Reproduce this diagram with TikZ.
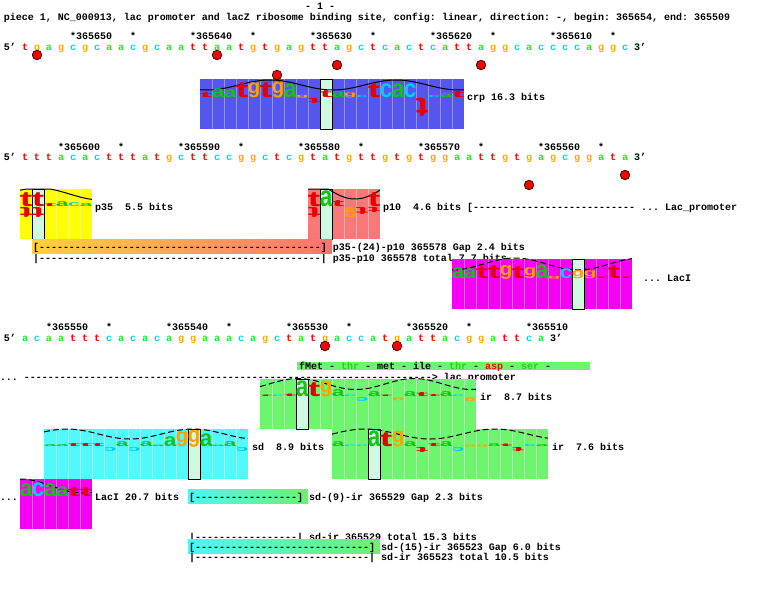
\documentclass[tikz,border=0pt]{standalone}
\usepackage{fontspec}
\usepackage{graphicx}
\setmonofont{Liberation Mono}
\newfontfamily\logof{Liberation Sans}
\definecolor{sa}{RGB}{40,230,40}
\definecolor{sc}{RGB}{0,215,240}
\definecolor{sg}{RGB}{255,170,0}
\definecolor{st}{RGB}{255,0,0}
\definecolor{La}{RGB}{20,195,20}
\definecolor{Lc}{RGB}{0,205,250}
\definecolor{Lg}{RGB}{255,160,0}
\definecolor{Lt}{RGB}{230,0,0}
\definecolor{crpblue}{RGB}{85,85,240}
\definecolor{pyellow}{RGB}{255,255,0}
\definecolor{pred}{RGB}{250,120,120}
\definecolor{laci}{RGB}{245,0,245}
\definecolor{sdcyan}{RGB}{80,250,250}
\definecolor{irgreen}{RGB}{110,245,110}
\definecolor{mint}{RGB}{205,250,225}
\definecolor{barAl}{RGB}{255,210,60}
\definecolor{barAr}{RGB}{250,115,115}
\definecolor{barBl}{RGB}{80,245,245}
\definecolor{barBr}{RGB}{110,240,110}
\definecolor{aag}{RGB}{40,205,40}
\newcount\myrc
\newcommand\Rep[2]{\myrc=#1\relax\loop\ifnum\myrc>0 #2\advance\myrc by -1\repeat}
\tikzset{
 mono/.style={inner sep=0pt, outer sep=0pt, anchor=base west, font=\ttfamily\bfseries\fontsize{10}{12}\selectfont},
 colsep/.style={draw=white, draw opacity=0.35, line width=0.6pt},
 hlcol/.style={fill=mint, draw=black, line width=0.8pt},
 wave/.style={black, line width=1pt},
 dwave/.style={black, line width=1pt, dash pattern=on 6pt off 3pt},
 reddot/.style={fill=red, draw=black, line width=0.6pt},
}
\newcommand\LG[4]{\node[inner sep=0pt,outer sep=0pt,anchor=south] at (#1,#2) {\resizebox*{12.5pt}{#4pt}{\logof\bfseries\textcolor{L#3}{#3}}};}
\newcommand\LD[4]{\node[inner sep=0pt,outer sep=0pt,anchor=north] at (#1,{#2+0.6}) {\rotatebox{180}{\resizebox*{12.5pt}{#4pt}{\logof\bfseries\textcolor{L#3}{#3}}}};}
\newcommand\logobox[5]{%
  \fill[#4] (#1,#2) rectangle ({#1+12*#3},{#2+50});
  \pgfmathtruncatemacro\nn{#3-1}
  \foreach \j in {1,...,\nn} {\draw[colsep] ({#1+12*\j},#2) -- ({#1+12*\j},{#2+50});}
  \ifnum#5>-1 \draw[hlcol] ({#1+12*#5},#2) rectangle ({#1+12*#5+12},{#2+50}); \fi
}
\newcommand\seqrow[2]{\foreach \ch [count=\i from 0] in {#2} {\node[mono,anchor=base] at ({25+12*\i},#1) {\textcolor{s\ch}{\ch}};}}
\newcommand\labrow[2]{\foreach \k/\lab in {#2} {\node[mono] at ({4+6*\k},#1) {\lab};}}
\begin{document}
\begin{tikzpicture}[x=1pt,y=-1pt]
\fill[white] (0,0) rectangle (774,603);
\useasboundingbox (0,0) rectangle (774,603);

% texts partly covered later
\node[mono] (tot1) at (33,261) {|\Rep{47}{-}| p35-p10 365578 total 7.7 bits};
\node[mono] (lacprom) at (0,380) {... \Rep{68}{-}> lac promoter};
\node[mono] (totB) at (189,540) {|\Rep{17}{-}| sd-ir 365529 total 15.3 bits};

% header
\node[mono] (pg) at (305,9) {- 1 -};
\node[mono] (title) at (4,20) {piece 1, NC\_000913, lac promoter and lacZ ribosome binding site, config: linear, direction: -, begin: 365654, end: 365509};

% row 1
\labrow{39}{11/*365650,21/*,31/*365640,41/*,51/*365630,61/*,71/*365620,81/*,91/*365610,101/*}
\node[mono] (r1a) at (4,50) {5’};
\seqrow{50}{t,g,a,g,c,g,c,a,a,c,g,c,a,a,t,t,a,a,t,g,t,g,a,g,t,t,a,g,c,t,c,a,c,t,c,a,t,t,a,g,g,c,a,c,c,c,c,a,g,g,c}
\node[mono] (r1b) at (634,50) {3’};

% row 2
\labrow{150}{9/*365600,19/*,29/*365590,39/*,49/*365580,59/*,69/*365570,79/*,89/*365560,99/*}
\node[mono] (r2a) at (4,160) {5’};
\seqrow{160}{t,t,t,a,c,a,c,t,t,t,a,t,g,c,t,t,c,c,g,g,c,t,c,g,t,a,t,g,t,t,g,t,g,t,g,g,a,a,t,t,g,t,g,a,g,c,g,g,a,t,a}
\node[mono] (r2b) at (634,160) {3’};

% row 3
\labrow{330}{7/*365550,17/*,27/*365540,37/*,47/*365530,57/*,67/*365520,77/*,87/*365510}
\node[mono] (r3a) at (4,341) {5’};
\seqrow{341}{a,c,a,a,t,t,t,c,a,c,a,c,a,g,g,a,a,a,c,a,g,c,t,a,t,g,a,c,c,a,t,g,a,t,t,a,c,g,g,a,t,t,c,a}
\node[mono] (r3b) at (550,341) {3’};

% ---------- crp logo
\logobox{200}{79}{22}{crpblue}{10}
\draw[wave] plot[domain=200:464,samples=80] (\x,{85-5*cos((\x-270)/126*360)});
\LG{206}{98}{t}{5} \LG{218}{98}{a}{9} \LG{230}{98}{a}{8} \LG{242}{98}{t}{15}
\LG{254}{98}{g}{15} \LG{266}{98}{t}{15} \LG{278}{98}{g}{16} \LG{290}{98}{a}{14}
\LG{302}{98}{g}{3} \LD{314}{98}{t}{5} \LG{326}{98}{t}{7} \LG{338}{98}{a}{6}
\LG{350}{98}{g}{5} \LG{362}{98}{c}{2} \LG{374}{98}{t}{14} \LG{386}{98}{c}{14}
\LG{398}{98}{a}{14} \LG{410}{98}{c}{14} \LD{422}{98}{t}{18} \LG{434}{98}{c}{2}
\LG{446}{98}{a}{4} \LG{458}{98}{t}{6}
\node[mono] (crp) at (467,100) {crp 16.3 bits};

% ---------- p35 logo
\logobox{20}{189}{6}{pyellow}{1}
\draw[wave] plot[domain=20:92,samples=40] (\x,{max(189,194-6*cos((\x-38)/126*360))});
\LG{26}{207}{t}{14} \LD{26}{207}{t}{10}
\LG{38}{207}{t}{14} \LD{38}{207}{t}{10}
\LG{50}{207}{t}{3} \LG{62}{207}{a}{5} \LG{74}{207}{c}{4} \LG{86}{207}{a}{3}
\node[mono] (p35) at (95,210) {p35\ \ 5.5 bits};

% ---------- p10 logo
\logobox{308}{189}{6}{pred}{1}
\draw[wave] plot[domain=308:380,samples=40] (\x,{max(189,186+13*cos((\x-355)/126*360))});
\LG{314}{207}{t}{14} \LD{314}{207}{t}{10}
\LG{326}{207}{a}{16} \LG{338}{207}{t}{6} \LD{350}{207}{g}{10} \LD{362}{207}{t}{7}
\LG{374}{207}{t}{14} \LD{374}{207}{t}{5}
\node[mono] (p10) at (383,210) {p10\ \ 4.6 bits [\Rep{27}{-} ... Lac\_promoter};

% p35-p10 gap bar
\shade[left color=barAl,right color=barAr] (32,239) rectangle (332,253);
\node[mono] (gap1) at (33,250) {[\Rep{47}{-}] p35-(24)-p10 365578 Gap 2.4 bits};

% ---------- LacI logo (row 2)
\logobox{452}{259}{15}{laci}{10}
\draw[dwave] plot[domain=452:632,samples=80] (\x,{264-6*cos((\x-515)/126*360)});
\LG{458}{279}{a}{11} \LG{470}{279}{a}{10} \LG{482}{279}{t}{12} \LG{494}{279}{t}{13}
\LG{506}{279}{g}{14} \LG{518}{279}{t}{12} \LG{530}{279}{g}{11} \LG{542}{279}{a}{14}
\LG{554}{279}{g}{3} \LG{566}{279}{c}{10} \LG{578}{279}{g}{8} \LG{590}{279}{g}{8}
\LG{602}{279}{t}{1.5} \LG{614}{279}{t}{13} \LG{626}{279}{t}{1.5}
\node[mono] (laci1) at (643,281) {... LacI};

% ---------- fMet line
\fill[irgreen] (297,362) rectangle (590,370);
\node[mono] (fmet) at (299,369) {fMet - \textcolor{aag}{thr} - met - ile - \textcolor{aag}{thr} - \textcolor{red}{asp} - \textcolor{aag}{ser} -};

% ---------- ir logo 1
\logobox{260}{379}{18}{irgreen}{3}
\draw[dwave] plot[domain=260:476,samples=80] (\x,{384-5.5*cos((\x-298)/116*360)});
\LG{266}{397}{t}{1.5} \LG{278}{397}{c}{1.5} \LG{290}{397}{t}{2.5} \LG{302}{397}{a}{16}
\LG{314}{397}{t}{14} \LG{326}{397}{g}{16} \LG{338}{397}{a}{7} \LG{350}{397}{c}{1.5}
\LD{362}{397}{c}{4} \LG{374}{397}{a}{5} \LG{386}{397}{t}{1.5} \LD{398}{397}{g}{3}
\LG{410}{397}{a}{5} \LG{422}{397}{t}{4} \LG{434}{397}{t}{2} \LG{446}{397}{a}{5}
\LG{458}{397}{c}{1.5} \LD{470}{397}{g}{4}
\node[mono] (ir1) at (480,400) {ir\ \ 8.7 bits};

% ---------- sd logo
\logobox{44}{429}{17}{sdcyan}{12}
\draw[dwave] plot[domain=44:248,samples=80] (\x,{434-5*cos((\x-67)/126*360)});
\LG{50}{447}{a}{2} \LG{62}{447}{a}{2} \LG{74}{447}{t}{3} \LG{86}{447}{t}{3}
\LG{98}{447}{t}{3} \LD{110}{447}{c}{4} \LG{122}{447}{a}{5} \LD{134}{447}{c}{4}
\LG{146}{447}{a}{5} \LG{158}{447}{a}{1.5} \LG{170}{447}{a}{10} \LG{182}{447}{g}{15}
\LG{194}{447}{g}{17} \LG{206}{447}{a}{13} \LG{218}{447}{a}{1.5} \LG{230}{447}{a}{5}
\LD{242}{447}{c}{4}
\node[mono] (sd) at (252,450) {sd\ \ 8.9 bits};

% ---------- ir logo 2
\logobox{332}{429}{18}{irgreen}{3}
\draw[dwave] plot[domain=332:548,samples=80] (\x,{434-5*cos((\x-365)/130*360)});
\LG{338}{447}{a}{5} \LG{350}{447}{c}{1.5} \LG{362}{447}{c}{1.5} \LG{374}{447}{a}{16}
\LG{386}{447}{t}{14} \LG{398}{447}{g}{16} \LG{410}{447}{a}{5} \LD{422}{447}{t}{5}
\LG{434}{447}{t}{3} \LG{446}{447}{a}{5} \LD{458}{447}{c}{4} \LG{470}{447}{g}{2}
\LG{482}{447}{g}{2} \LG{494}{447}{a}{3} \LG{506}{447}{t}{2.5} \LD{518}{447}{t}{4}
\LG{530}{447}{c}{2} \LG{542}{447}{a}{2}
\node[mono] (ir2) at (552,450) {ir\ \ 7.6 bits};

% ---------- LacI logo (row 3)
\logobox{20}{479}{6}{laci}{-1}
\draw[dwave] plot[domain=20:92,samples=40] (\x,{486-7*cos((\x-20)/126*360)});
\LG{26}{497}{a}{13} \LG{38}{497}{c}{14} \LG{50}{497}{a}{13} \LG{62}{497}{a}{10}
\LG{74}{497}{t}{9} \LG{86}{497}{t}{9}
\node[mono] (dots) at (0,500) {...};
\node[mono] (laci2) at (95,500) {LacI 20.7 bits};

% sd-ir gap bars
\shade[left color=barBl,right color=barBr] (188,489) rectangle (308,503);
\node[mono] (gapA) at (189,500) {[\Rep{17}{-}] sd-(9)-ir 365529 Gap 2.3 bits};
\shade[left color=barBl,right color=barBr] (188,539) rectangle (380,553);
\node[mono] (gapC) at (189,550) {[\Rep{29}{-}] sd-(15)-ir 365523 Gap 6.0 bits};
\node[mono] (totD) at (189,560) {|\Rep{29}{-}| sd-ir 365523 total 10.5 bits};

% red dots
\foreach \p in {(37,55),(217,55),(337,65),(481,65),(277,75),(529,185),(625,175),(325,346),(397,346)}
  \filldraw[reddot] \p circle (4.8pt);
\end{tikzpicture}
\end{document}
